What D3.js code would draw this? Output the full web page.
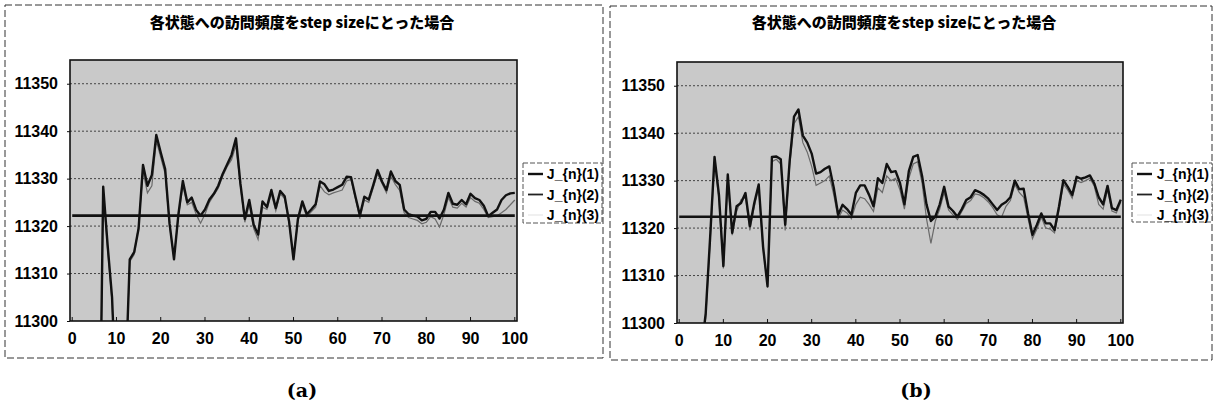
<!DOCTYPE html>
<html lang="ja">
<head>
<meta charset="UTF-8">
<title>各状態への訪問頻度</title>
<style>
  body { margin: 0; background: #fff; }
  svg text { font-family: "Liberation Sans", Arial, sans-serif; }
</style>
</head>
<body>
<svg id="fig" width="1216" height="409"></svg>
<script src="https://d3js.org/d3.v7.min.js"></script>
<script>
// categories 0..100 (step)
const cats = d3.range(0, 101);
const xTicks = [0, 10, 20, 30, 40, 50, 60, 70, 80, 90, 100];
const yTicks = [11300, 11310, 11320, 11330, 11340, 11350];
const titleText = "各状態への訪問頻度をstep sizeにとった場合";
const legendLabels = ["J_{n}(1)", "J_{n}(2)", "J_{n}(3)"];

// panel (a)
const a1 = [11180, 11200, 11215, 11230, 11240, 11250, 11258, 11328.3, 11316, 11305,
  11282, 11270, 11286, 11313, 11314.5, 11319.5, 11332.9, 11328.5, 11330.8, 11339.2,
  11335.5, 11332, 11320.5, 11313, 11322.5, 11329.5, 11325, 11326, 11323.4, 11322.2,
  11323.5, 11325.6, 11326.8, 11328.5, 11331, 11333, 11335, 11338.5, 11329, 11321.5,
  11325.5, 11320.3, 11318.2, 11325.2, 11324, 11327.6, 11323.8, 11327.4, 11326.3, 11321,
  11313, 11321.5, 11325.2, 11322.5, 11323.5, 11324.6, 11329.4, 11328.8, 11327.4, 11327.7,
  11328.2, 11328.7, 11330.4, 11330.3, 11326.2, 11322.3, 11326.2, 11325.6, 11328.6, 11331.8,
  11329.4, 11327.6, 11331.5, 11329.5, 11328.7, 11323.5, 11322.5, 11322.2, 11322, 11321.2,
  11321.5, 11323, 11323, 11321.6, 11323.5, 11327, 11324.7, 11324.5, 11325.5, 11324.6,
  11326.8, 11325.9, 11325.5, 11324.3, 11322.1, 11322.8, 11323.5, 11325.5, 11326.5, 11326.9,
  11327];
const a2 = 11322.2;
const a3 = [11180, 11200, 11215, 11230, 11240, 11250, 11258, 11327.5, 11315, 11304,
  11281, 11270, 11287, 11312.5, 11314, 11320, 11331.5, 11327, 11328.5, 11338,
  11334.5, 11331, 11320, 11313.5, 11322, 11328.5, 11324.5, 11325, 11322.5, 11320.6,
  11322.5, 11325, 11326.5, 11328, 11330.5, 11332.5, 11334, 11337, 11328.5, 11320.8,
  11324.5, 11319.5, 11317.2, 11324, 11323.5, 11326.8, 11323.2, 11326.8, 11325.8, 11320.5,
  11313.5, 11321, 11324.5, 11322, 11323, 11324, 11328.5, 11327.2, 11326.6, 11327,
  11327.3, 11327.6, 11329.5, 11329.8, 11325.8, 11321.5, 11325.5, 11325, 11328, 11331,
  11329, 11327, 11330.5, 11328.8, 11327.5, 11322.8, 11321.8, 11321.5, 11321.2, 11320.5,
  11320.8, 11322, 11321.5, 11319.8, 11322.5, 11326, 11324, 11323.8, 11324.8, 11324,
  11326, 11325.2, 11324.8, 11323.5, 11321.8, 11322, 11322.2, 11322.8, 11323.5, 11324.5,
  11325.5];

// panel (b)
const b1 = [11230, 11245, 11260, 11272, 11283, 11294, 11302, 11318, 11335, 11327,
  11312, 11331.3, 11319, 11324.6, 11325.3, 11327.4, 11320.4, 11325.3, 11329.2, 11316,
  11307.7, 11335, 11335.1, 11334.5, 11320.7, 11334, 11343.5, 11345, 11339.5, 11338,
  11335.7, 11331.5, 11331.8, 11332.5, 11333, 11328.5, 11322.8, 11324.9, 11324, 11322.8,
  11327.4, 11329, 11329, 11327, 11324.6, 11330.5, 11329.5, 11333.5, 11331.8, 11332,
  11329.5, 11325, 11332, 11335, 11335.4, 11331, 11325, 11321.5, 11322.4, 11325,
  11328.7, 11324.5, 11323.6, 11322.4, 11324, 11325.9, 11326.5, 11328, 11327.6, 11327,
  11326.2, 11325, 11323.8, 11324.9, 11325.5, 11326.5, 11330, 11328.2, 11328.3, 11323.1,
  11318.6, 11320.7, 11323.1, 11321, 11321, 11319.6, 11324.5, 11330.1, 11328.7, 11327,
  11330.8, 11330.4, 11330.7, 11331.1, 11329.4, 11326.5, 11325, 11328.9, 11324.2, 11323.8,
  11326];
const b2 = 11322.4;
const b3 = [11230, 11245, 11260, 11272, 11283, 11294, 11301, 11317, 11334, 11326,
  11311.5, 11330, 11318.5, 11323.5, 11326, 11326.5, 11319.5, 11324.5, 11328.5, 11315.5,
  11308, 11334, 11334.5, 11333.5, 11319.5, 11333, 11342, 11343.5, 11338, 11336,
  11333, 11329, 11329.5, 11330, 11331, 11327, 11322, 11323.8, 11323.2, 11322,
  11325, 11326.5, 11326.2, 11325, 11323.5, 11328.5, 11327.5, 11331, 11330, 11330.5,
  11328, 11324, 11330.5, 11333.5, 11334, 11329.5, 11322, 11316.8, 11321.5, 11324,
  11327.5, 11323.8, 11322.8, 11321.8, 11323.5, 11325.2, 11325.8, 11327.2, 11327, 11326.4,
  11325.5, 11324.3, 11322.8, 11322.3, 11324.6, 11325.8, 11329.2, 11327.5, 11326.5, 11322,
  11317.8, 11319.8, 11322.3, 11320, 11319.8, 11319, 11323.8, 11329.3, 11328, 11326.3,
  11330, 11329.6, 11330, 11330.5, 11328.8, 11325, 11324, 11328, 11323.6, 11323.2,
  11325.5];

const svg = d3.select("#fig");
svg.append("rect").attr("width", 1216).attr("height", 409).attr("fill", "#fff");

function drawPanel(cfg, s1, ref, s3, id) {
  const g = svg.append("g");

  // outer chart frame (dashed, scanned look)
  g.append("rect")
    .attr("x", cfg.box[0]).attr("y", cfg.box[1])
    .attr("width", cfg.box[2] - cfg.box[0]).attr("height", cfg.box[3] - cfg.box[1])
    .attr("fill", "none").attr("stroke", "#333").attr("stroke-width", 1)
    .attr("stroke-dasharray", "7,3");

  g.append("text")
    .attr("x", cfg.titleX).attr("y", 28)
    .attr("text-anchor", "middle")
    .style("font-family", "'Noto Sans CJK JP', sans-serif")
    .style("font-weight", "900").style("font-size", "15px")
    .text(titleText);

  const x = d3.scaleBand().domain(cats).range([cfg.left, cfg.right]);
  const cx = d => x(d) + x.bandwidth() / 2;
  const y = d3.scaleLinear().domain([11300, 11355]).range([cfg.bottom, cfg.top]);

  // plot area
  g.append("rect")
    .attr("x", cfg.left).attr("y", cfg.top)
    .attr("width", cfg.right - cfg.left).attr("height", cfg.bottom - cfg.top)
    .attr("fill", "#c9c9c9");

  g.append("g").selectAll("line").data(yTicks.slice(1)).join("line")
    .attr("x1", cfg.left).attr("x2", cfg.right)
    .attr("y1", d => y(d)).attr("y2", d => y(d))
    .attr("stroke", "#444").attr("stroke-width", 1).attr("stroke-dasharray", "2,2");

  svg.append("clipPath").attr("id", "clip" + id).append("rect")
    .attr("x", cfg.left).attr("y", cfg.top)
    .attr("width", cfg.right - cfg.left).attr("height", cfg.bottom - cfg.top);

  const line = d3.line().x((d, i) => cx(cats[i])).y(d => y(d));
  const lines = g.append("g").attr("clip-path", "url(#clip" + id + ")");

  lines.append("path").datum(s3).attr("d", line)
    .attr("fill", "none").attr("stroke", "#6a6a6a").attr("stroke-width", 1.2);
  lines.append("line")
    .attr("x1", cx(cats[0])).attr("x2", cx(cats[cats.length - 1]))
    .attr("y1", y(ref)).attr("y2", y(ref))
    .attr("stroke", "#111").attr("stroke-width", 2.6);
  lines.append("path").datum(s1).attr("d", line)
    .attr("fill", "none").attr("stroke", "#111").attr("stroke-width", 2.4)
    .attr("stroke-linejoin", "round");

  // frame of the plot area
  g.append("rect")
    .attr("x", cfg.left).attr("y", cfg.top)
    .attr("width", cfg.right - cfg.left).attr("height", cfg.bottom - cfg.top)
    .attr("fill", "none").attr("stroke", "#111").attr("stroke-width", 1.6);

  // axes
  const xAxis = g.append("g")
    .attr("transform", "translate(0," + cfg.bottom + ")")
    .call(d3.axisBottom(x).tickValues(xTicks).tickSize(-4).tickPadding(12));
  const yAxis = g.append("g")
    .attr("transform", "translate(" + cfg.left + ",0)")
    .call(d3.axisLeft(y).tickValues(yTicks).tickFormat(d3.format("d")).tickSize(3).tickPadding(9));
  [xAxis, yAxis].forEach(ax => {
    ax.select(".domain").remove();
    ax.selectAll("line").attr("stroke", "#111");
    ax.selectAll("text")
      .style("font-family", "'Liberation Sans', Arial, sans-serif")
      .style("font-weight", "bold").style("font-size", "16px").attr("fill", "#000");
  });

  // legend
  const lg = g.append("g");
  lg.append("rect")
    .attr("x", cfg.legend[0]).attr("y", cfg.legend[1])
    .attr("width", cfg.legend[2] - cfg.legend[0]).attr("height", cfg.legend[3] - cfg.legend[1])
    .attr("fill", "#fff").attr("stroke", "#555").attr("stroke-width", 1)
    .attr("stroke-dasharray", "5,2");
  const legStyle = [
    { c: "#111", w: 2.4 },
    { c: "#222", w: 1.8 },
    { c: "#e6e6e6", w: 1.2 }
  ];
  legendLabels.forEach((t, i) => {
    const yy = cfg.legend[1] + 11 + i * 20.5;
    lg.append("line")
      .attr("x1", cfg.legend[0] + 5).attr("x2", cfg.legend[0] + 20)
      .attr("y1", yy).attr("y2", yy)
      .attr("stroke", legStyle[i].c).attr("stroke-width", legStyle[i].w);
    lg.append("text")
      .attr("x", cfg.legend[2] - 3).attr("y", yy + 5)
      .attr("text-anchor", "end")
      .style("font-weight", "bold").style("font-size", "14px")
      .text(t);
  });

  svg.append("text")
    .attr("x", cfg.capX).attr("y", 397)
    .attr("text-anchor", "middle")
    .style("font-family", "'DejaVu Serif', serif")
    .style("font-weight", "bold").style("font-size", "19px")
    .text(cfg.cap);
}

drawPanel({
  box: [5, 5, 603, 358], titleX: 302,
  left: 70, right: 517, top: 60, bottom: 321,
  legend: [523, 163, 602, 223], capX: 302, cap: "(a)"
}, a1, a2, a3, "a");

drawPanel({
  box: [610, 6, 1212, 360], titleX: 904,
  left: 677, right: 1123, top: 62, bottom: 323,
  legend: [1132, 163, 1212, 222], capX: 916, cap: "(b)"
}, b1, b2, b3, "b");
</script>
</body>
</html>
